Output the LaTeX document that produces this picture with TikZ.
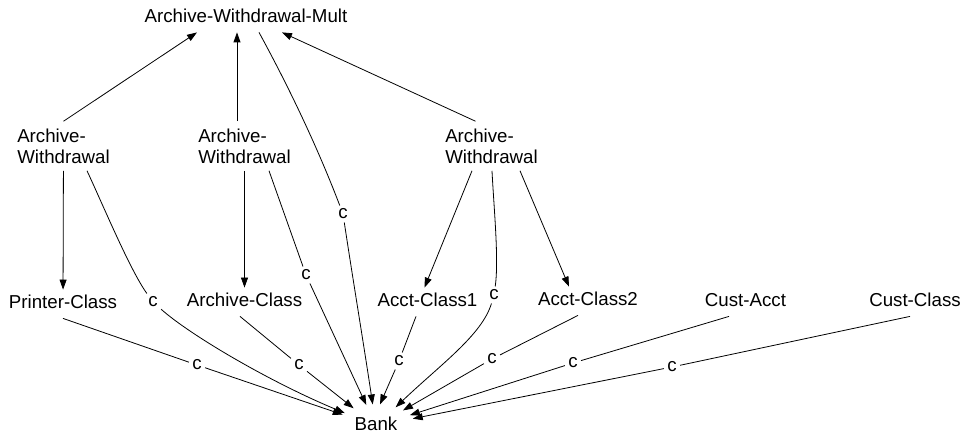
\documentclass[tikz,border=0pt]{standalone}
\usepackage{fontspec}
\setmainfont{Liberation Sans}
\usetikzlibrary{arrows.meta,shapes.geometric}

\begin{document}
\begin{tikzpicture}[x=1pt, y=-1pt, line width=0.8pt,
  every node/.style={font=\fontsize{18.7}{21}\selectfont},
  cls/.style={inner xsep=4pt, inner ysep=5pt, text height=14pt, text depth=4pt},
  wd/.style={align=left, inner sep=7pt},
  lbl/.style={inner sep=3pt},
  dep/.style={-{Triangle[length=10pt,width=7pt]}}]
\useasboundingbox (0,0) rectangle (964,435);

% classes
\node (mult) [cls] at (246,18) {Archive-Withdrawal-Mult};
\node (aw1) [wd] at (63.5,146) {Archive-\\Withdrawal};
\node (aw2) [wd] at (244.5,146) {Archive-\\Withdrawal};
\node (aw3) [wd] at (491.5,146) {Archive-\\Withdrawal};
\node (printer) [cls] at (63,304) {Printer-Class};
\node (archive) [cls] at (244.5,302) {Archive-Class};
\node (acct1) [cls] at (427.5,302) {Acct-Class1};
\node (acct2) [cls] at (588,301) {Acct-Class2};
\node (custacct) [cls] at (745.5,302) {Cust-Acct};
\node (custclass) [cls] at (915,302) {Cust-Class};
\node (bank) [cls, ellipse, inner sep=6pt] at (376,426) {Bank};

% c labels
\node (cm) [lbl] at (343,214) {c};
\node (c1) [lbl] at (153,302) {c};
\node (c2) [lbl] at (306,275) {c};
\node (c3) [lbl] at (494,295) {c};
\node (c4) [lbl] at (197,365) {c};
\node (c5) [lbl] at (299,365) {c};
\node (c6) [lbl] at (399,361) {c};
\node (c7) [lbl] at (492,359) {c};
\node (c8) [lbl] at (573,363) {c};
\node (c9) [lbl] at (672,367) {c};

% inheritance
\draw[dep] (aw1.north) -- ([xshift=-49pt]mult.south);
\draw[dep] ([xshift=-7.5pt]aw2.north) -- ([xshift=-9pt]mult.south);
\draw[dep] ([xshift=-16pt]aw3.north) -- ([xshift=36pt]mult.south);
\draw[dep] (aw1) -- (printer);
\draw[dep] (aw2) -- (archive);
\draw[dep] ([xshift=-19.5pt]aw3.south) -- ([xshift=-3pt]acct1.north);
\draw[dep] ([xshift=28.5pt]aw3.south) -- ([xshift=-19pt]acct2.north);

% c edges into Bank
\draw ([xshift=13pt]mult.south) .. controls (291,91) and (319,151) .. (cm);
\draw[dep] (cm) .. controls (353,280) and (363,340) .. (bank);
\draw ([xshift=23.5pt]aw1.south) .. controls (103,205) and (130,270) .. (c1);
\draw[dep] (c1) .. controls (190,335) and (270,382) .. (bank);
\draw ([xshift=24.5pt]aw2.south) -- (c2);
\draw[dep] (c2) -- (bank);
\draw ([xshift=0.5pt]aw3.south) .. controls (494,210) and (499,260) .. (c3);
\draw[dep] (c3) .. controls (482,335) and (440,365) .. (bank);
\draw (printer.south) -- (c4);
\draw[dep] (c4) -- (bank);
\draw ([xshift=-4.5pt]archive.south) -- (c5);
\draw[dep] (c5) -- (bank);
\draw ([xshift=-11.5pt]acct1.south) -- (c6);
\draw[dep] (c6) -- ([xshift=4pt]bank.north);
\draw ([xshift=-10pt]acct2.south) -- (c7);
\draw[dep] (c7) -- (bank);
\draw ([xshift=-16.5pt]custacct.south) -- (c8);
\draw[dep] (c8) -- (bank);
\draw ([xshift=-5pt]custclass.south) -- (c9);
\draw[dep] (c9) -- (bank);

\end{tikzpicture}
\end{document}
